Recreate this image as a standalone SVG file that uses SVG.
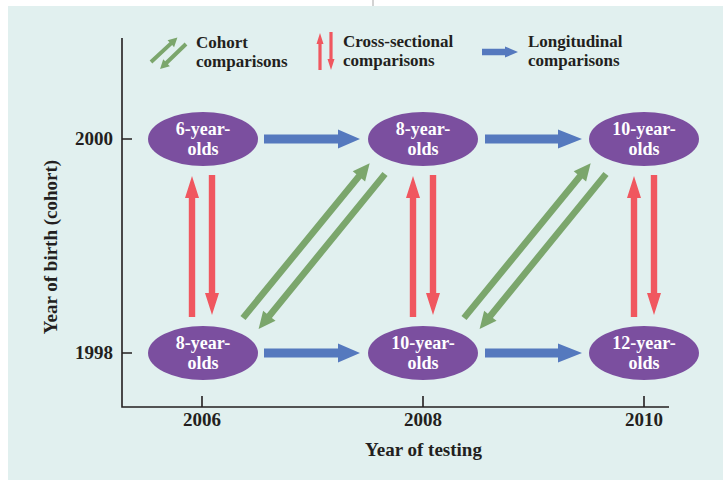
<svg xmlns="http://www.w3.org/2000/svg" xmlns:xlink="http://www.w3.org/1999/xlink" width="723" height="481" viewBox="0 0 723 481">
<style>
.t{font-family:"Liberation Serif","Times New Roman",serif;font-weight:bold;fill:#231f20}
.lg{font-size:17px}
.ax{font-size:19px}
.nt{font-family:"Liberation Serif","Times New Roman",serif;font-weight:bold;font-size:18px;fill:#ffffff;text-anchor:middle}
.node{fill:#7b4f9f}
.axis{stroke:#231f20;stroke-width:1.6;fill:none}
.blue{fill:#5579be}
.red{fill:#f0575f}
.green{fill:#7ba66c}
</style>
<defs>
<path id="garrow" d="M0,-3.3 L183,-3.3 L183,-8 L200,0 L183,8 L183,3.3 L0,3.3 Z"/>
<path id="garrowS" d="M0,-2 L27,-2 L27,-4.8 L36,0 L27,4.8 L27,2 L0,2 Z"/>
</defs>
<rect x="0" y="0" width="723" height="481" fill="#ffffff"/>
<rect x="8" y="6" width="715" height="474" fill="#e1f0ef"/>
<line x1="373" y1="0" x2="373" y2="6" stroke="#c4c4c4" stroke-width="1.5"/>

<g id="legend">
  <use xlink:href="#garrowS" class="green" transform="translate(151,62) rotate(-42.8)"/>
  <use xlink:href="#garrowS" class="green" transform="translate(186,44) rotate(136.1)"/>
  <text class="t lg" x="196" y="48">Cohort</text>
  <text class="t lg" x="196" y="66.5">comparisons</text>
  <polygon class="red" points="318.4,70 318.4,44 316.5,44 320,33 323.5,44 321.6,44 321.6,70"/>
  <polygon class="red" points="329.4,32 329.4,59 327.5,59 331,70 334.5,59 332.6,59 332.6,32"/>
  <text class="t lg" x="343" y="47">Cross-sectional</text>
  <text class="t lg" x="343" y="65.5">comparisons</text>
  <polygon class="blue" points="482,48.7 505,48.7 505,46.5 518,52 505,57.5 505,55.3 482,55.3"/>
  <text class="t lg" x="528" y="47">Longitudinal</text>
  <text class="t lg" x="528" y="65.5">comparisons</text>
</g>

<g id="axes">
  <path class="axis" d="M122,38 V407 H669"/>
  <path class="axis" d="M122,139 H132 M122,353 H132 M202,396 V407 M423,396 V407 M644,396 V407"/>
  <text class="t ax" x="113" y="145" text-anchor="end">2000</text>
  <text class="t ax" x="113" y="359" text-anchor="end">1998</text>
  <text class="t ax" x="202" y="426" text-anchor="middle">2006</text>
  <text class="t ax" x="423" y="426" text-anchor="middle">2008</text>
  <text class="t ax" x="644" y="426" text-anchor="middle">2010</text>
  <text class="t ax" x="423.5" y="456" text-anchor="middle">Year of testing</text>
  <text class="t ax" transform="translate(57,247) rotate(-90)" text-anchor="middle">Year of birth (cohort)</text>
</g>

<g id="connectors">
  <polygon class="blue" points="264,134.5 338,134.5 338,129.5 360,139 338,148.5 338,143.5 264,143.5"/>
  <polygon class="blue" points="485,134.5 558,134.5 558,129.5 582,139 558,148.5 558,143.5 485,143.5"/>
  <polygon class="blue" points="264,348.5 338,348.5 338,343.5 360,353 338,362.5 338,357.5 264,357.5"/>
  <polygon class="blue" points="485,348.5 558,348.5 558,343.5 582,353 558,362.5 558,357.5 485,357.5"/>

  <polygon class="red" points="188.8,317 188.8,198 185,198 192,176 199,198 195.2,198 195.2,317"/>
  <polygon class="red" points="208.8,175 208.8,293 205,293 212,315 219,293 215.2,293 215.2,175"/>
  <polygon class="red" points="409.8,317 409.8,198 406,198 413,176 420,198 416.2,198 416.2,317"/>
  <polygon class="red" points="429.8,175 429.8,293 426,293 433,315 440,293 436.2,293 436.2,175"/>
  <polygon class="red" points="630.8,317 630.8,198 627,198 634,176 641,198 637.2,198 637.2,317"/>
  <polygon class="red" points="650.8,175 650.8,293 647,293 654,315 661,293 657.2,293 657.2,175"/>

  <use xlink:href="#garrow" class="green" transform="translate(243,318) rotate(-50.7)"/>
  <use xlink:href="#garrow" class="green" transform="translate(385,174) rotate(129.2)"/>
  <use xlink:href="#garrow" class="green" transform="translate(464,318) rotate(-50.7)"/>
  <use xlink:href="#garrow" class="green" transform="translate(606,174) rotate(129.2)"/>
</g>

<g id="n6_2000">
  <ellipse class="node" cx="203" cy="139" rx="55" ry="27"/>
  <text class="nt" x="203" y="135">6-year-</text>
  <text class="nt" x="203" y="155">olds</text>
</g>
<g id="n8_2000">
  <ellipse class="node" cx="423" cy="139" rx="55" ry="27"/>
  <text class="nt" x="423" y="135">8-year-</text>
  <text class="nt" x="423" y="155">olds</text>
</g>
<g id="n10_2000">
  <ellipse class="node" cx="644" cy="139" rx="55" ry="27"/>
  <text class="nt" x="644" y="135">10-year-</text>
  <text class="nt" x="644" y="155">olds</text>
</g>
<g id="n8_1998">
  <ellipse class="node" cx="203" cy="353" rx="55" ry="27"/>
  <text class="nt" x="203" y="349">8-year-</text>
  <text class="nt" x="203" y="369">olds</text>
</g>
<g id="n10_1998">
  <ellipse class="node" cx="423" cy="353" rx="55" ry="27"/>
  <text class="nt" x="423" y="349">10-year-</text>
  <text class="nt" x="423" y="369">olds</text>
</g>
<g id="n12_1998">
  <ellipse class="node" cx="644" cy="353" rx="55" ry="27"/>
  <text class="nt" x="644" y="349">12-year-</text>
  <text class="nt" x="644" y="369">olds</text>
</g>
</svg>
